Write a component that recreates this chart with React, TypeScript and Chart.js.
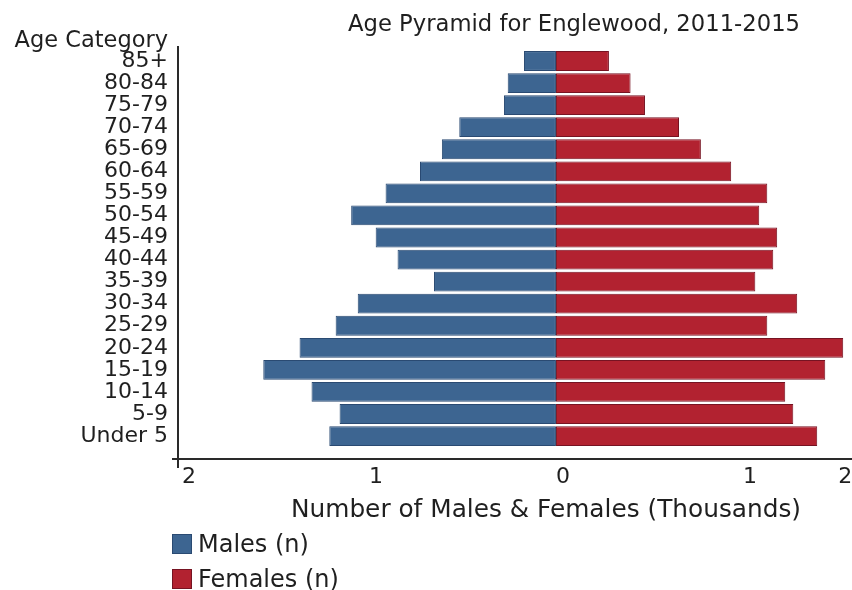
import { useEffect, useRef } from "react";
import { Chart, registerables } from "chart.js";

Chart.register(...registerables);

// ---------- data ----------
const chartTitle = "Age Pyramid for Englewood, 2011-2015";
const yAxisTitle = "Age Category";
const xAxisTitle = "Number of Males & Females (Thousands)";

const categories = [
  "85+", "80-84", "75-79", "70-74", "65-69", "60-64", "55-59", "50-54", "45-49",
  "40-44", "35-39", "30-34", "25-29", "20-24", "15-19", "10-14", "5-9", "Under 5",
];

// thousands of people
const malesThousands = [
  0.171, 0.258, 0.278, 0.517, 0.61, 0.727, 0.911, 1.095, 0.964,
  0.847, 0.652, 1.06, 1.178, 1.371, 1.565, 1.307, 1.157, 1.212,
];
const femalesThousands = [
  0.283, 0.399, 0.476, 0.658, 0.775, 0.937, 1.13, 1.087, 1.183,
  1.162, 1.066, 1.29, 1.13, 1.536, 1.44, 1.226, 1.269, 1.397,
];

const seriesLabels = ["Males (n)", "Females (n)"];
const xTickValues = [-2, -1, 0, 1, 1.51];
const xTickLabels = ["2", "1", "0", "1", "2"];

// ---------- styling ----------
const FONT = '"DejaVu Sans", Verdana, sans-serif';
const TEXT = "#1f1f1f";
const MALE_FILL = "#3d6591";
const MALE_BORDER = "#2a4a72";
const FEMALE_FILL = "#b22230";
const FEMALE_BORDER = "#761322";

const decorPlugin = {
  id: "decor",
  afterDraw(chart: any) {
    const { ctx, chartArea: a } = chart;
    ctx.save();
    ctx.fillStyle = TEXT;
    ctx.textBaseline = "alphabetic";

    // chart title
    ctx.font = `22.7px ${FONT}`;
    ctx.textAlign = "center";
    ctx.fillText(chartTitle, 574, 31);

    // y axis title (top-left)
    ctx.font = `22.5px ${FONT}`;
    ctx.textAlign = "right";
    ctx.fillText(yAxisTitle, a.left - 10, 46.5);

    // x axis title
    ctx.font = `24.8px ${FONT}`;
    ctx.textAlign = "center";
    ctx.fillText(xAxisTitle, 546, 517);

    // axis lines
    ctx.strokeStyle = "#2a2a2a";
    ctx.lineWidth = 2;
    ctx.beginPath();
    ctx.moveTo(a.left, a.top);
    ctx.lineTo(a.left, a.bottom + 9);
    ctx.moveTo(a.left - 6, a.bottom);
    ctx.lineTo(a.right, a.bottom);
    ctx.stroke();

    // legend (vertical, below axis title)
    chart.data.datasets.forEach((ds: any, i: number) => {
      const y = 534 + i * 35;
      ctx.fillStyle = ds.backgroundColor;
      ctx.fillRect(172, y, 20, 20);
      ctx.strokeStyle = ds.borderColor;
      ctx.lineWidth = 1;
      ctx.strokeRect(172.5, y + 0.5, 19, 19);
      ctx.fillStyle = TEXT;
      ctx.font = `24px ${FONT}`;
      ctx.textAlign = "left";
      ctx.fillText(ds.label, 198, y + 18);
    });
    ctx.restore();
  },
};

export default function App() {
  const canvasRef = useRef<HTMLCanvasElement>(null);

  useEffect(() => {
    document.body.style.margin = "0";
    document.body.style.overflow = "hidden";
    const canvas = canvasRef.current;
    if (!canvas) return;

    const chart = new Chart(canvas, {
      type: "bar",
      data: {
        datasets: [
          {
            label: seriesLabels[0],
            data: malesThousands.map((v, i) => ({ x: -v, y: i })),
            backgroundColor: MALE_FILL,
            borderColor: MALE_BORDER,
            borderWidth: 1,
            borderSkipped: false,
            barPercentage: 0.9,
            categoryPercentage: 1,
          },
          {
            label: seriesLabels[1],
            data: femalesThousands.map((v, i) => ({ x: v, y: i })),
            backgroundColor: FEMALE_FILL,
            borderColor: FEMALE_BORDER,
            borderWidth: 1,
            borderSkipped: false,
            barPercentage: 0.9,
            categoryPercentage: 1,
          },
        ],
      } as any,
      options: {
        animation: false,
        responsive: true,
        maintainAspectRatio: false,
        indexAxis: "y",
        layout: { padding: { top: 46, left: 0, right: 0, bottom: 0 }, autoPadding: false } as any,
        plugins: {
          legend: { display: false },
          title: { display: false },
          tooltip: { enabled: false },
        },
        scales: {
          x: {
            type: "linear",
            min: -2.021,
            max: 1.583,
            stacked: true,
            grid: { display: false, drawTicks: false },
            border: { display: false },
            afterBuildTicks: (s: any) => {
              s.ticks = xTickValues.map((v) => ({ value: v }));
            },
            afterFit: (s: any) => {
              s.height = 131;
              s.paddingLeft = 0;
              s.paddingRight = 0;
            },
            ticks: {
              autoSkip: false,
              align: "start",
              padding: 5,
              color: TEXT,
              font: { family: FONT, size: 22 },
              callback: (v: any) => {
                const k = xTickValues.indexOf(Number(v));
                return k >= 0 ? xTickLabels[k] : "";
              },
            },
          },
          y: {
            type: "linear",
            reverse: true,
            offset: false,
            min: -0.68,
            max: 18.04,
            stacked: true,
            grid: { display: false, drawTicks: false, offset: false },
            border: { display: false },
            afterBuildTicks: (s: any) => {
              s.ticks = categories.map((_, i) => ({ value: i }));
            },
            afterFit: (s: any) => {
              s.width = 178;
              s.paddingTop = 0;
              s.paddingBottom = 0;
            },
            ticks: {
              autoSkip: false,
              padding: 10,
              color: TEXT,
              font: { family: FONT, size: 22 },
              callback: (v: any) => categories[Number(v)] ?? "",
            },
          },
        },
      } as any,
      plugins: [decorPlugin],
    });

    return () => chart.destroy();
  }, []);

  return (
    <div style={{ width: 852, height: 590, position: "relative" }}>
      <canvas ref={canvasRef} />
    </div>
  );
}
